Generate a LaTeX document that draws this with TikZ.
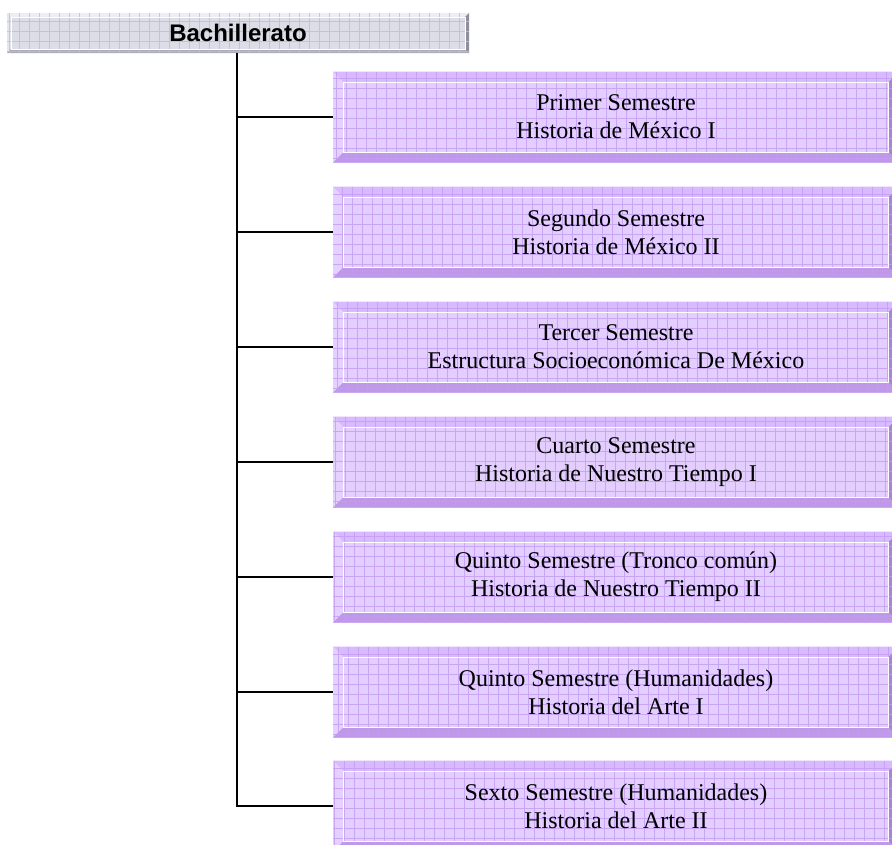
\documentclass[tikz,border=0pt]{standalone}
\usepackage{fontspec}
\setmainfont{Liberation Serif}
\newfontfamily\arialfont{Liberation Sans}
\usetikzlibrary{calc}
\definecolor{pfill}{HTML}{E4CEFF}
\definecolor{ptop}{HTML}{D9B9FF}
\definecolor{pleft}{HTML}{E6D0FF}
\definecolor{pbottom}{HTML}{BF98E8}
\definecolor{pright}{HTML}{A883D6}
\definecolor{pgrid}{HTML}{C29CF2}
\definecolor{gfill}{HTML}{DDDDE8}
\definecolor{gtop}{HTML}{EDEDF3}
\definecolor{gleft}{HTML}{E6E6EE}
\definecolor{gbottom}{HTML}{ABABBC}
\definecolor{gright}{HTML}{8E8E9E}
\definecolor{ggrid}{HTML}{BDBDCF}
\newcommand\bevelpic[6]{%
  \coordinate (sw) at (path picture bounding box.south west);
  \coordinate (ne) at (path picture bounding box.north east);
  \coordinate (nw) at (sw|-ne);
  \coordinate (se) at (ne|-sw);
  \fill[#2] (nw) -- (ne) -- ($(ne)+(-#1,#1)$) -- ($(nw)+(#1,#1)$) -- cycle;
  \fill[#3] (nw) -- (sw) -- ($(sw)+(#1,-#1)$) -- ($(nw)+(#1,#1)$) -- cycle;
  \fill[#4] (sw) -- (se) -- ($(se)+(-#1,-#1)$) -- ($(sw)+(#1,-#1)$) -- cycle;
  \fill[#5] (ne) -- (se) -- ($(se)+(-#1,-#1)$) -- ($(ne)+(-#1,#1)$) -- cycle;
  \draw[#6, line width=0.7pt, opacity=0.8] (sw) grid[step=10pt] (ne);
  \draw[white, line width=1pt] ($(nw)+(#1,#1)$) rectangle ($(se)+(-#1,-#1)$);
}
\tikzset{
  x=1pt, y=-1pt,
  conn/.style={line width=2.2pt, black},
  pbox/.style={minimum width=566, minimum height=91, inner sep=0pt,
    align=center, fill=pfill,
    font=\fontsize{24}{28}\selectfont,
    path picture={\bevelpic{10.5}{ptop}{pleft}{pbottom}{pright}{pgrid}}},
  gbox/.style={minimum width=462, minimum height=40, inner sep=0pt,
    align=center, fill=gfill,
    font=\arialfont\bfseries\fontsize{24}{28}\selectfont,
    path picture={\bevelpic{4}{gtop}{gleft}{gbottom}{gright}{ggrid}}},
}
\begin{document}
\begin{tikzpicture}
\useasboundingbox (0,0) rectangle (892,844);
\clip (0,0) rectangle (892,844);
\node[gbox] (top) at (238,33) {Bachillerato};
\node[pbox] (b1) at (616,117) {Primer Semestre\\Historia de México I};
\node[pbox] (b2) at (616,232) {Segundo Semestre\\Historia de México II};
\node[pbox] (b3) at (616,347) {Tercer Semestre\\Estructura Socioeconómica De México};
\node[pbox] (b4) at (616,462) {Cuarto Semestre\\Historia de Nuestro Tiempo I};
\node[pbox] (b5) at (616,577) {Quinto Semestre (Tronco común)\\Historia de Nuestro Tiempo II};
\node[pbox] (b6) at (616,692) {Quinto Semestre (Humanidades)\\Historia del Arte I};
\node[pbox] (b7) at (616,806) {Sexto Semestre (Humanidades)\\Historia del Arte II};
\coordinate (trunk) at ([xshift=-1pt]top.south);
\draw[conn] (trunk) |- (b7.west);
\foreach \b in {b1,b2,b3,b4,b5,b6}{
  \draw[conn] (trunk |- \b.west) -- (\b.west);
}
\end{tikzpicture}
\end{document}
